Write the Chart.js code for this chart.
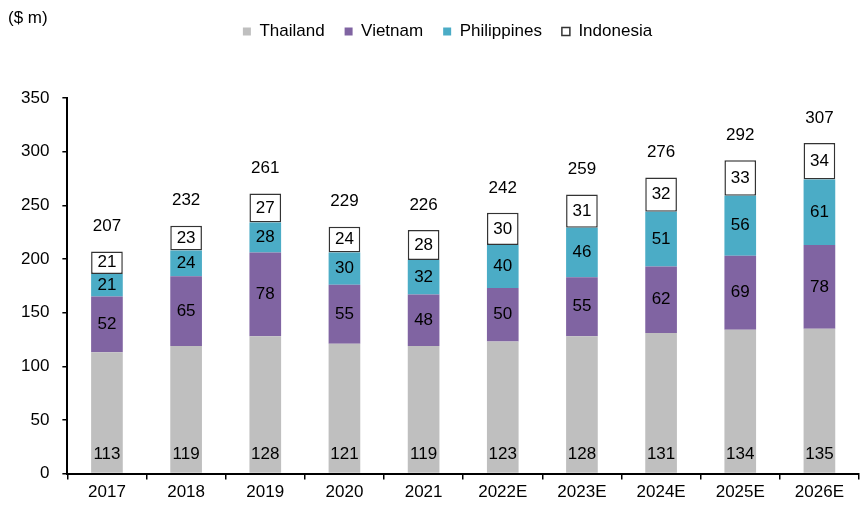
<!DOCTYPE html>
<html>
<head>
<meta charset="utf-8">
<script src="https://cdn.jsdelivr.net/npm/chart.js@4"></script>
<style>
  html, body { margin: 0; padding: 0; background: #fff; }
  #wrap { width: 860px; height: 506px; }
</style>
</head>
<body>
<div id="wrap"><canvas id="marketChart" width="860" height="506"></canvas></div>
<script>
const years = ["2017", "2018", "2019", "2020", "2021", "2022E", "2023E", "2024E", "2025E", "2026E"];
const thailand = [113, 119, 128, 121, 119, 123, 128, 131, 134, 135];
const vietnam = [52, 65, 78, 55, 48, 50, 55, 62, 69, 78];
const philippines = [21, 24, 28, 30, 32, 40, 46, 51, 56, 61];
const indonesia = [21, 23, 27, 24, 28, 30, 31, 32, 33, 34];
const totals = [207, 232, 261, 229, 226, 242, 259, 276, 292, 307];
const yTicks = [0, 50, 100, 150, 200, 250, 300, 350];

const FONT = '"Liberation Sans", Arial, sans-serif';
Chart.defaults.font.family = FONT;
Chart.defaults.font.size = 17;
Chart.defaults.color = '#000';

// push the plot area down below the legend, and nudge the legend right a bit
const legendSpacer = {
    id: 'legendSpacer',
    beforeInit(chart) {
        const fit = chart.legend.fit;
        chart.legend.fit = function () {
            fit.call(this);
            this.height += 48;
        };
    },
    afterLayout(chart) {
        chart.legend.left += 14;
        chart.legend.right += 14;
    }
};

const barLabels = {
    id: 'barLabels',
    afterDatasetsDraw(chart) {
        const ctx = chart.ctx;
        ctx.save();
        ctx.font = '17px ' + FONT;
        ctx.fillStyle = '#000';
        ctx.textAlign = 'center';
        ctx.textBaseline = 'middle';
        chart.data.datasets.forEach((ds, i) => {
            chart.getDatasetMeta(i).data.forEach((bar, j) => {
                const y = i === 0 ? bar.base - 19 : (bar.y + bar.base) / 2;
                ctx.fillText(ds.data[j], bar.x, y);
            });
        });
        chart.getDatasetMeta(3).data.forEach((bar, j) => {
            ctx.fillText(totals[j], bar.x, bar.y - 25);
        });
        ctx.textAlign = 'left';
        ctx.fillText('($ m)', 8, 18);
        ctx.restore();
    }
};

new Chart(document.getElementById('marketChart'), {
    type: 'bar',
    data: {
        labels: years,
        datasets: [
            { label: 'Thailand', data: thailand, backgroundColor: '#BFBFBF', borderWidth: 0 },
            { label: 'Vietnam', data: vietnam, backgroundColor: '#8064A2', borderWidth: 0 },
            { label: 'Philippines', data: philippines, backgroundColor: '#4BACC6', borderWidth: 0 },
            { label: 'Indonesia', data: indonesia, backgroundColor: '#FFFFFF', borderColor: '#333333', borderWidth: 1.5, borderSkipped: false }
        ]
    },
    options: {
        responsive: false,
        animation: false,
        layout: { padding: { left: 8, right: 1, top: 3, bottom: 0 } },
        datasets: { bar: { categoryPercentage: 1, barPercentage: 0.4 } },
        plugins: {
            legend: {
                position: 'top',
                labels: { boxWidth: 8, boxHeight: 8, padding: 20, font: { size: 17 } }
            },
            tooltip: { enabled: false }
        },
        scales: {
            x: {
                stacked: true,
                border: { color: '#000', width: 2 },
                grid: { drawOnChartArea: false, drawTicks: true, tickLength: 6, color: '#000', lineWidth: 1.5 },
                ticks: { padding: 3, font: { size: 17 } }
            },
            y: {
                stacked: true,
                min: 0,
                max: 350,
                afterBuildTicks(scale) { scale.ticks = yTicks.map(v => ({ value: v })); },
                border: { color: '#000', width: 2 },
                grid: { drawOnChartArea: false, drawTicks: true, tickLength: 5, color: '#000', lineWidth: 1.5 },
                ticks: { padding: 13, font: { size: 17 } }
            }
        }
    },
    plugins: [legendSpacer, barLabels]
});
</script>
</body>
</html>
